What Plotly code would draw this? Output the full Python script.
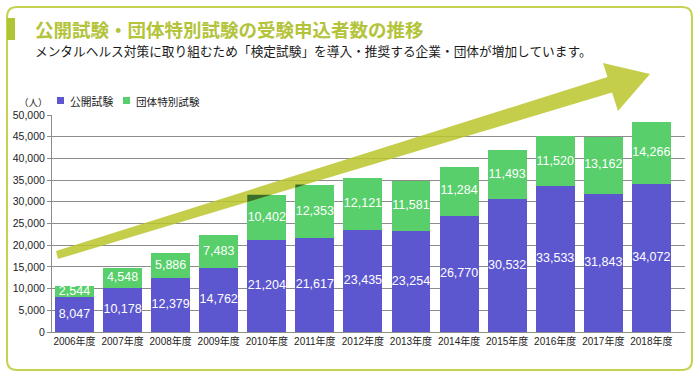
import plotly.graph_objects as go

# ---- data ----
years = ["2006年度", "2007年度", "2008年度", "2009年度", "2010年度", "2011年度", "2012年度",
         "2013年度", "2014年度", "2015年度", "2016年度", "2017年度", "2018年度"]
public_exam = [8047, 10178, 12379, 14762, 21204, 21617, 23435, 23254, 26770, 30532, 33533, 31843, 34072]
group_exam = [2544, 4548, 5886, 7483, 10402, 12353, 12121, 11581, 11284, 11493, 11520, 13162, 14266]
series_names = ["公開試験", "団体特別試験"]
y_ticks = [0, 5000, 10000, 15000, 20000, 25000, 30000, 35000, 40000, 45000, 50000]
title_text = "公開試験・団体特別試験の受験申込者数の推移"
subtitle_text = "メンタルヘルス対策に取り組むため「検定試験」を導入・推奨する企業・団体が増加しています。"
unit_text = "（人）"

# ---- styling ----
PURPLE = "#5c56cf"
GREEN = "#58cf6b"
LIME = "#b3c33a"
FRAME = "#c6d352"
GRID = "#8c8c8c"
OVERLAP = "#3a6d27"
LATIN = "Liberation Sans, Arial, Noto Sans CJK JP"
CJK = "Noto Sans CJK JP, Noto Sans CJK SC, sans-serif"

W, H = 700, 379
L, R, T, B = 52, 15, 115, 47
PW = W - L - R
PH = H - T - B
X_RANGE = [-0.468, 12.70]
Y_MAX = 50000
BARGAP = 0.19


def px(x):
    return (x - L) / PW


def py(y):
    return (H - B - y) / PH


fig = go.Figure()
fig.add_trace(go.Bar(x=years, y=public_exam, name=series_names[0], marker=dict(color=PURPLE, line=dict(width=0)),
                     showlegend=False, hovertemplate="%{x}: %{y:,}<extra>" + series_names[0] + "</extra>"))
fig.add_trace(go.Bar(x=years, y=group_exam, name=series_names[1], marker=dict(color=GREEN, line=dict(width=0)),
                     showlegend=False, hovertemplate="%{x}: %{y:,}<extra>" + series_names[1] + "</extra>"))

# value labels (centered in each segment)
fig.add_trace(go.Scatter(x=years, y=[v / 2 for v in public_exam], mode="text",
                         text=[f"{v:,}" for v in public_exam],
                         textfont=dict(color="white", size=12.5, family=LATIN),
                         showlegend=False, hoverinfo="skip"))
fig.add_trace(go.Scatter(x=years, y=[p + g / 2 for p, g in zip(public_exam, group_exam)], mode="text",
                         text=[f"{v:,}" for v in group_exam],
                         textfont=dict(color="white", size=12.5, family=LATIN),
                         showlegend=False, hoverinfo="skip"))

shapes = []
# frame with rounded corners
x0, x1, y0, y1, r = 7, 692, 7, 370, 10
frame_path = (f"M {px(x0 + r)},{py(y0)} L {px(x1 - r)},{py(y0)} Q {px(x1)},{py(y0)} {px(x1)},{py(y0 + r)} "
              f"L {px(x1)},{py(y1 - r)} Q {px(x1)},{py(y1)} {px(x1 - r)},{py(y1)} "
              f"L {px(x0 + r)},{py(y1)} Q {px(x0)},{py(y1)} {px(x0)},{py(y1 - r)} "
              f"L {px(x0)},{py(y0 + r)} Q {px(x0)},{py(y0)} {px(x0 + r)},{py(y0)} Z")
shapes.append(dict(type="path", xref="paper", yref="paper", path=frame_path,
                   line=dict(color=FRAME, width=2), fillcolor="rgba(0,0,0,0)", layer="below"))
# accent bar next to title
shapes.append(dict(type="rect", xref="paper", yref="paper", x0=px(7), x1=px(15), y0=py(18), y1=py(40),
                   fillcolor="#b0c535", line=dict(width=0)))
# legend squares
shapes.append(dict(type="rect", xref="paper", yref="paper", x0=px(57), x1=px(64), y0=py(97), y1=py(104),
                   fillcolor=PURPLE, line=dict(width=0)))
shapes.append(dict(type="rect", xref="paper", yref="paper", x0=px(123), x1=px(130), y0=py(97), y1=py(104),
                   fillcolor=GREEN, line=dict(width=0)))
# big trend arrow (decoration, in pixel space)
arrow_pts = [(56, 251), (607.5, 77), (603, 63), (650, 74), (618, 111), (612, 92.5), (58, 259)]
arrow_path = "M " + " L ".join(f"{px(a)},{py(b)}" for a, b in arrow_pts) + " Z"
shapes.append(dict(type="path", xref="paper", yref="paper", path=arrow_path,
                   fillcolor="rgba(187,197,44,0.85)", line=dict(width=0), layer="above"))


# darker tone where the arrow lies over a bar (multiply-like look of the original)
def clip(poly, xmin, xmax, ymin, ymax):
    def cut(pts, inside, inter):
        out = []
        for i in range(len(pts)):
            cur, prev = pts[i], pts[i - 1]
            if inside(cur):
                if not inside(prev):
                    out.append(inter(prev, cur))
                out.append(cur)
            elif inside(prev):
                out.append(inter(prev, cur))
        return out

    def ix(xc):
        return lambda a, b: (xc, a[1] + (b[1] - a[1]) * (xc - a[0]) / (b[0] - a[0]))

    def iy(yc):
        return lambda a, b: (a[0] + (b[0] - a[0]) * (yc - a[1]) / (b[1] - a[1]), yc)

    pts = poly
    for ins, inter in [(lambda p: p[0] >= xmin, ix(xmin)), (lambda p: p[0] <= xmax, ix(xmax)),
                       (lambda p: p[1] >= ymin, iy(ymin)), (lambda p: p[1] <= ymax, iy(ymax))]:
        if not pts:
            break
        pts = cut(pts, ins, inter)
    return pts


step = PW / (X_RANGE[1] - X_RANGE[0])
half = (1 - BARGAP) / 2 * step
for i, (p, g) in enumerate(zip(public_exam, group_exam)):
    cx = L + (i - X_RANGE[0]) * step
    top = H - B - (p + g) / Y_MAX * PH
    bottom = H - B
    poly = clip(arrow_pts, cx - half, cx + half, top, bottom)
    if len(poly) >= 3:
        path = "M " + " L ".join(f"{px(a)},{py(b)}" for a, b in poly) + " Z"
        shapes.append(dict(type="path", xref="paper", yref="paper", path=path,
                           fillcolor=OVERLAP, line=dict(width=0), layer="above"))

annotations = [
    dict(text="<b>" + title_text + "</b>", x=px(33), y=py(29), xref="paper", yref="paper",
         xanchor="left", yanchor="middle", showarrow=False, font=dict(family=CJK, size=18.5, color=LIME)),
    dict(text=subtitle_text, x=px(33), y=py(50), xref="paper", yref="paper",
         xanchor="left", yanchor="middle", showarrow=False, font=dict(family=CJK, size=12.7, color="#1a1a1a")),
    dict(text=unit_text, x=px(50), y=py(102), xref="paper", yref="paper",
         xanchor="right", yanchor="middle", showarrow=False, font=dict(family=CJK, size=9.5, color="#222")),
    dict(text=series_names[0], x=px(68), y=py(101), xref="paper", yref="paper",
         xanchor="left", yanchor="middle", showarrow=False, font=dict(family=CJK, size=10.8, color="#222")),
    dict(text=series_names[1], x=px(134), y=py(101), xref="paper", yref="paper",
         xanchor="left", yanchor="middle", showarrow=False, font=dict(family=CJK, size=10.6, color="#222")),
]

fig.update_layout(
    width=W, height=H,
    margin=dict(l=L, r=R, t=T, b=B, pad=0),
    paper_bgcolor="white", plot_bgcolor="white",
    barmode="stack", bargap=BARGAP,
    showlegend=False,
    shapes=shapes, annotations=annotations,
    xaxis=dict(type="category", range=X_RANGE, showgrid=False, showline=True, linecolor=GRID,
               linewidth=1, ticks="", tickfont=dict(family=LATIN, size=10, color="#222"), fixedrange=True),
    yaxis=dict(range=[0, Y_MAX], tickvals=y_ticks, tickformat=",d", showgrid=True, gridcolor=GRID, gridwidth=1,
               showline=True, linecolor=GRID, linewidth=1, ticks="outside", ticklen=4, tickcolor=GRID,
               zeroline=False, tickfont=dict(family=LATIN, size=10.5, color="#222"), fixedrange=True),
)

fig.write_html("out.html", config={"displayModeBar": False},
               post_script="document.body.style.margin='0';")
